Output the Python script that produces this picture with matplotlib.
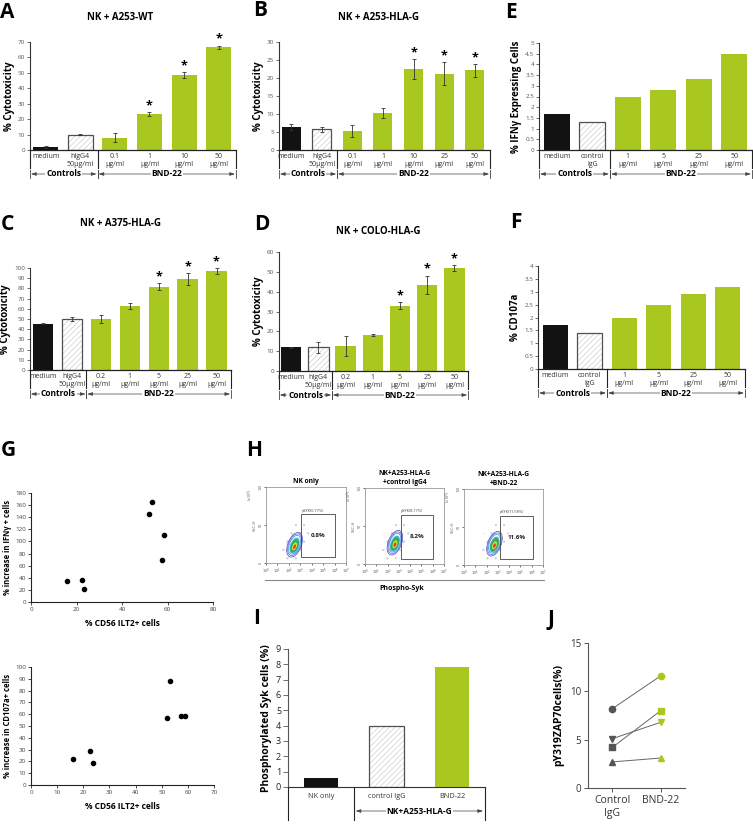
import numpy as np
import matplotlib
matplotlib.use('Agg')
import matplotlib.pyplot as plt
from matplotlib.patches import Rectangle, Ellipse
from matplotlib.lines import Line2D

plt.rcParams['font.family'] = ['Open Sans', 'DejaVu Sans']
plt.rcParams['hatch.linewidth'] = 0.4

W, H = 753, 824
GREEN = '#a8c820'
BLACK = '#121212'

# ---- data ----
a_labels = ['medium', 'hIgG4\n50µg/ml', '0.1\nµg/ml', '1\nµg/ml', '10\nµg/ml', '50\nµg/ml']
a_vals = [2.0, 10.0, 8.0, 23.2, 48.5, 66.5]
a_err = [0.4, 0.6, 3.0, 1.3, 2.0, 1.2]
a_star = [0, 0, 0, 1, 1, 1]

b_labels = ['medium', 'hIgG4\n50µg/ml', '0.1\nµg/ml', '1\nµg/ml', '10\nµg/ml', '25\nµg/ml', '50\nµg/ml']
b_vals = [6.3, 5.7, 5.3, 10.3, 22.5, 21.2, 22.1]
b_err = [0.8, 0.7, 1.6, 1.3, 2.7, 3.2, 1.7]
b_star = [0, 0, 0, 0, 1, 1, 1]

c_labels = ['medium', 'hIgG4\n50µg/ml', '0.2\nµg/ml', '1\nµg/ml', '5\nµg/ml', '25\nµg/ml', '50\nµg/ml']
c_vals = [45.5, 50.0, 50.0, 63.0, 81.5, 89.0, 97.0]
c_err = [0.5, 2.0, 4.0, 3.0, 3.5, 6.0, 3.0]
c_star = [0, 0, 0, 0, 1, 1, 1]

d_labels = ['medium', 'hIgG4\n50µg/ml', '0.2\nµg/ml', '1\nµg/ml', '5\nµg/ml', '25\nµg/ml', '50\nµg/ml']
d_vals = [12.0, 12.0, 12.5, 18.0, 33.0, 43.5, 52.0]
d_err = [0.3, 2.8, 5.0, 0.5, 1.8, 4.5, 1.5]
d_star = [0, 0, 0, 0, 1, 1, 1]

e_labels = ['medium', 'control\nIgG', '1\nµg/ml', '5\nµg/ml', '25\nµg/ml', '50\nµg/ml']
e_vals = [1.7, 1.3, 2.5, 2.8, 3.3, 4.5]

f_labels = ['medium', 'control\nIgG', '1\nµg/ml', '5\nµg/ml', '25\nµg/ml', '50\nµg/ml']
f_vals = [1.7, 1.4, 2.0, 2.5, 2.9, 3.2]

g1_x = [15.8, 22.6, 23.5, 51.8, 53.0, 58.5, 57.4]
g1_y = [35, 36, 22, 146, 165, 111, 69]
g2_x = [15.9, 22.7, 23.6, 52.0, 53.2, 57.5, 59.0]
g2_y = [22, 29, 19, 57, 88, 58.5, 58.5]

flow_titles = ['NK only', 'NK+A253-HLA-G\n+control IgG4', 'NK+A253-HLA-G\n+BND-22']
gate_x0 = [3.1, 3.2, 3.2]
gate_x1 = [6.0, 6.0, 6.1]
gate_y0 = [8, 7, 8]
gate_y1 = [64, 65, 65]
gate_names = ['pSYK(0.77%)', 'pSYK(8.17%)', 'pSYK(11.58%)']
gate_pct = ['0.8%', '8.2%', '11.6%']
cluster_x = [2.5, 2.65, 2.7]
cluster_y = [24, 28, 28]

i_labels = ['NK only', 'control IgG', 'BND-22']
i_vals = [0.6, 4.0, 7.8]

j_markers = ['o', 'v', 's', '^']
j_ctrl = [8.2, 5.1, 4.2, 2.7]
j_bnd = [11.6, 6.8, 8.0, 3.1]

fig = plt.figure(figsize=(W / 100, H / 100), dpi=100)


def add_ax(l, t, r, b):
    return fig.add_axes([l / W, 1 - b / H, (r - l) / W, (b - t) / H])


def ypx(ax, px):
    return -px / (ax.get_position().height * H)


def ftext(x, y, s, **kw):
    fig.text(x / W, 1 - y / H, s, **kw)


def letter(x, y, s):
    ftext(x, y, s, ha='left', va='center', fontsize=15, fontweight='bold')


def bar_panel(ax, vals, err, stars, ymax, ystep, ylabel, xlo, width):
    n = len(vals)
    x = np.arange(n)
    ax.bar(x[:1], vals[:1], width, color=BLACK, lw=0)
    ax.bar(x[1:2], vals[1:2], width, color='white', edgecolor='#c4c4c4', hatch='//////', lw=0)
    ax.bar(x[1:2], vals[1:2], width, fill=False, edgecolor='#505050', lw=0.9)
    ax.bar(x[2:], vals[2:], width, color=GREEN, lw=0)
    if err is not None:
        ax.errorbar(x, vals, yerr=err, fmt='none', ecolor='#333', elinewidth=0.6,
                    capsize=1.5, capthick=0.6)
        for xi, v, e, s in zip(x, vals, err, stars):
            if s:
                ax.annotate('*', (xi, v + e), xytext=(0, 0), textcoords='offset points',
                            ha='center', va='bottom', fontsize=9, fontweight='bold',
                            annotation_clip=False)
    ax.set_xlim(xlo, n - 0.5)
    ax.set_ylim(0, ymax)
    ticks = np.arange(0, ymax + ystep / 2, ystep)
    ax.set_yticks(ticks)
    ax.set_yticklabels([f'{t:g}' for t in ticks])
    ax.set_xticks([])
    for s in ['top', 'right']:
        ax.spines[s].set_visible(False)
    ax.spines['left'].set_color('#333')
    ax.spines['left'].set_linewidth(0.8)
    ax.spines['bottom'].set_color('#222')
    ax.spines['bottom'].set_linewidth(0.9)
    ax.tick_params(axis='y', length=2, width=0.5, labelsize=4.5, labelcolor='#555',
                   pad=1.5, color='#333')
    ax.set_ylabel(ylabel, fontsize=7, fontweight='bold', labelpad=2)


def draw_table(ax, labels, n_ctrl, xlo, groups, label_px=3, line_px=18, arrow_px=24,
               ends=True, label_va='top', fs=5):
    n = len(labels)
    tr = ax.get_xaxis_transform()
    for i, lab in enumerate(labels):
        ax.text(i, ypx(ax, label_px), lab, transform=tr, ha='center', va=label_va,
                fontsize=fs, color='#333', linespacing=1.15)
    for xv in [xlo, n_ctrl - 0.5, n - 0.5]:
        ax.plot([xv, xv], [0, ypx(ax, line_px)], transform=tr, color='#222', lw=0.8,
                clip_on=False)
    ya = ypx(ax, arrow_px)
    for name, x0, x1 in groups:
        ax.annotate('', xy=(x1 - 0.03, ya), xytext=(x0 + 0.03, ya), xycoords=tr, textcoords=tr,
                    arrowprops=dict(arrowstyle='<|-|>,head_length=0.3,head_width=0.1',
                                    color='#444', lw=0.5, shrinkA=0, shrinkB=0),
                    annotation_clip=False)
        ax.text((x0 + x1) / 2, ya, name, transform=tr, ha='center', va='center', fontsize=6,
                fontweight='bold', zorder=6, bbox=dict(fc='white', ec='none', pad=0.6))
        if ends:
            for xv in (x0, x1):
                ax.plot([xv, xv], [ypx(ax, arrow_px - 4), ypx(ax, arrow_px + 4)], transform=tr,
                        color='#444', lw=0.6, clip_on=False)


# ---- A ----
ax = add_ax(30, 42, 236, 150)
bar_panel(ax, a_vals, a_err, a_star, 70, 10, '% Cytotoxicity', -0.45, 0.72)
draw_table(ax, a_labels, 2, -0.45, [('Controls', -0.45, 1.5), ('BND-22', 1.5, 5.5)])
ftext(120, 17, 'NK + A253-WT', ha='center', va='center', fontsize=7, fontweight='bold')
letter(0, 12, 'A')

# ---- B ----
ax = add_ax(279, 42, 490, 150)
bar_panel(ax, b_vals, b_err, b_star, 30, 5, '% Cytotoxicity', -0.4, 0.62)
draw_table(ax, b_labels, 2, -0.4, [('Controls', -0.4, 1.5), ('BND-22', 1.5, 6.5)])
ftext(378, 17, 'NK + A253-HLA-G', ha='center', va='center', fontsize=7, fontweight='bold')
letter(253, 11, 'B')

# ---- E ----
ax = add_ax(539, 43, 752, 150)
bar_panel(ax, e_vals, None, None, 5, 0.5, '% IFN\u03b3 Expressing Cells', -0.5, 0.72)
draw_table(ax, e_labels, 2, -0.5, [('Controls', -0.5, 1.5), ('BND-22', 1.5, 5.5)])
letter(505, 12, 'E')

# ---- C ----
ax = add_ax(30, 268, 231, 370)
bar_panel(ax, c_vals, c_err, c_star, 100, 10, '% Cytotoxicity', -0.45, 0.7)
draw_table(ax, c_labels, 2, -0.45, [('Controls', -0.45, 1.5), ('BND-22', 1.5, 6.5)])
ftext(120, 223, 'NK + A375-HLA-G', ha='center', va='center', fontsize=7, fontweight='bold')
letter(1, 224, 'C')

# ---- D ----
ax = add_ax(279, 252, 468, 371)
bar_panel(ax, d_vals, d_err, d_star, 60, 10, '% Cytotoxicity', -0.45, 0.75)
draw_table(ax, d_labels, 2, -0.45, [('Controls', -0.45, 1.5), ('BND-22', 1.5, 6.5)])
ftext(378, 232, 'NK + COLO-HLA-G', ha='center', va='center', fontsize=7, fontweight='bold')
letter(254, 224, 'D')

# ---- F ----
ax = add_ax(538, 266, 745, 369)
bar_panel(ax, f_vals, None, None, 4, 0.5, '% CD107a', -0.5, 0.72)
draw_table(ax, f_labels, 2, -0.5, [('Controls', -0.5, 1.5), ('BND-22', 1.5, 5.5)])
letter(510, 222, 'F')

# ---- G ----
letter(1, 450, 'G')
for (l, t, r, b), gx, gy, ymax, ystep, xmax, xstep, ylab in [
        ((31, 493, 213, 602), g1_x, g1_y, 180, 20, 80, 20, '% increase in IFN\u03b3 + cells'),
        ((31, 667, 214, 785), g2_x, g2_y, 100, 10, 70, 10, '% increase in CD107a+ cells')]:
    ax = add_ax(l, t, r, b)
    ax.scatter(gx, gy, s=9, color='black', zorder=3)
    ax.set_xlim(0, xmax)
    ax.set_ylim(0, ymax)
    ax.set_xticks(np.arange(0, xmax + 1, xstep))
    ax.set_yticks(np.arange(0, ymax + 1, ystep))
    for s in ['top', 'right']:
        ax.spines[s].set_visible(False)
    for s in ['left', 'bottom']:
        ax.spines[s].set_linewidth(0.8)
        ax.spines[s].set_color('#222')
    ax.tick_params(length=2, width=0.5, labelsize=4.5, labelcolor='#444', pad=1.5)
    ax.set_ylabel(ylab, fontsize=5.5, fontweight='bold', labelpad=2)
    ax.set_xlabel('% CD56 ILT2+ cells', fontsize=6, fontweight='bold', labelpad=5)

# ---- H ----
letter(246, 450, 'H')
flow_boxes = [(266, 487, 346, 563), (365, 488, 444, 564), (464, 489, 543, 565)]
for k, (l, t, r, b) in enumerate(flow_boxes):
    ax = add_ax(l, t, r, b)
    ax.set_xlim(0, 7)
    ax.set_ylim(0, 100)
    cx, cy = cluster_x[k] / 7, cluster_y[k] / 100
    ax.add_patch(Ellipse((cx, cy + 0.04), 0.32, 0.6, angle=-20, transform=ax.transAxes,
                         fill=False, hatch='..', edgecolor='#cccccc', lw=0))
    for sc, ec in [(1.0, '#4848c8'), (0.88, '#5a60d8'), (0.76, '#3a8ad8')]:
        ax.add_patch(Ellipse((cx, cy), 0.17 * sc, 0.34 * sc, angle=-20, transform=ax.transAxes,
                             fill=False, edgecolor=ec, lw=0.5))
    for sc, fc, dy in [(0.64, '#38b8d0', -0.01), (0.52, '#2fb04a', -0.015),
                       (0.32, '#e0d838', -0.02), (0.18, '#e23a30', -0.025)]:
        ax.add_patch(Ellipse((cx, cy + dy), 0.17 * sc, 0.34 * sc, angle=-20,
                             transform=ax.transAxes, facecolor=fc, edgecolor='none'))
    ax.add_patch(Rectangle((gate_x0[k], gate_y0[k]), gate_x1[k] - gate_x0[k],
                           gate_y1[k] - gate_y0[k], fill=False, edgecolor='#444', lw=0.6))
    ax.text(gate_x0[k], gate_y1[k] + 1.5, gate_names[k], fontsize=2.8, color='#444',
            ha='left', va='bottom')
    ax.text((gate_x0[k] + gate_x1[k]) / 2, (gate_y0[k] + gate_y1[k]) / 2, gate_pct[k],
            fontsize=4.5, fontweight='bold', ha='center', va='center', color='#222')
    ax.set_xticks(range(8))
    ax.set_xticklabels([f'$10^{{{n}}}$' for n in range(8)])
    ax.set_yticks([0, 50, 100])
    ax.tick_params(length=1.5, width=0.4, labelsize=2.6, labelcolor='#555', pad=1)
    for lbl in ax.get_yticklabels():
        lbl.set_rotation(90)
        lbl.set_va('center')
    for s in ax.spines.values():
        s.set_color('#999')
        s.set_linewidth(0.6)
    ax.set_ylabel('SSC-H', fontsize=3, color='#555', labelpad=1)
    ax.text(-0.2, 0.98, '(x10$^3$)', transform=ax.transAxes, fontsize=2.8, color='#555',
            rotation=90, ha='center', va='top')
    ax.set_title(flow_titles[k], fontsize=4.8, fontweight='bold', pad=3, linespacing=1.3)
fig.add_artist(Line2D([265 / W, 544 / W], [1 - 580 / H, 1 - 580 / H], color='#888', lw=0.8))
ftext(402, 589, 'Phospho-Syk', ha='center', va='center', fontsize=5, fontweight='bold')

# ---- I ----
letter(253, 618, 'I')
ax = add_ax(288, 649, 485, 787)
xi = np.arange(len(i_vals))
ax.bar(xi[:1], i_vals[:1], 0.52, color=BLACK, lw=0)
ax.bar(xi[1:2], i_vals[1:2], 0.52, color='white', edgecolor='#c4c4c4', hatch='//////', lw=0)
ax.bar(xi[1:2], i_vals[1:2], 0.52, fill=False, edgecolor='#505050', lw=0.9)
ax.bar(xi[2:], i_vals[2:], 0.52, color=GREEN, lw=0)
ax.set_xlim(-0.5, 2.5)
ax.set_ylim(0, 9)
ax.set_yticks(range(10))
ax.set_xticks([])
for s in ['top', 'right']:
    ax.spines[s].set_visible(False)
ax.spines['left'].set_color('#555')
ax.spines['bottom'].set_color('#333')
ax.tick_params(axis='y', length=3.5, width=0.6, labelsize=6.5, labelcolor='#222', pad=1.5,
               color='#555')
ax.set_ylabel('Phosphorylated Syk cells (%)', fontsize=7.5, fontweight='bold', labelpad=3)
draw_table(ax, i_labels, 1, -0.5, [('NK+A253-HLA-G', 0.5, 2.5)], label_px=9, line_px=33,
           arrow_px=24, ends=False, label_va='center', fs=5.2)

# ---- J ----
letter(548, 620, 'J')
ax = add_ax(588, 643, 685, 788)
for m, c, bv in zip(j_markers, j_ctrl, j_bnd):
    ax.plot([0, 1], [c, bv], color='#666', lw=0.7, zorder=2)
    ax.plot([0], [c], marker=m, color='#555', ms=4.5, ls='none', zorder=3)
    ax.plot([1], [bv], marker=m, color=GREEN, ms=4.5, ls='none', zorder=3)
ax.set_xlim(-0.5, 1.5)
ax.set_ylim(0, 15)
ax.set_yticks([0, 5, 10, 15])
ax.set_xticks([0, 1])
ax.set_xticklabels(['Control\nIgG', 'BND-22'])
for s in ['top', 'right']:
    ax.spines[s].set_visible(False)
for s in ['left', 'bottom']:
    ax.spines[s].set_color('#555')
    ax.spines[s].set_linewidth(0.8)
ax.tick_params(length=3, width=0.7, color='#555', labelsize=7, labelcolor='#333', pad=2)
ax.tick_params(axis='x', labelsize=7.5)
ax.set_ylabel('pY319ZAP70cells(%)', fontsize=7.5, fontweight='bold', labelpad=4)

fig.savefig('out.png', dpi=100)
